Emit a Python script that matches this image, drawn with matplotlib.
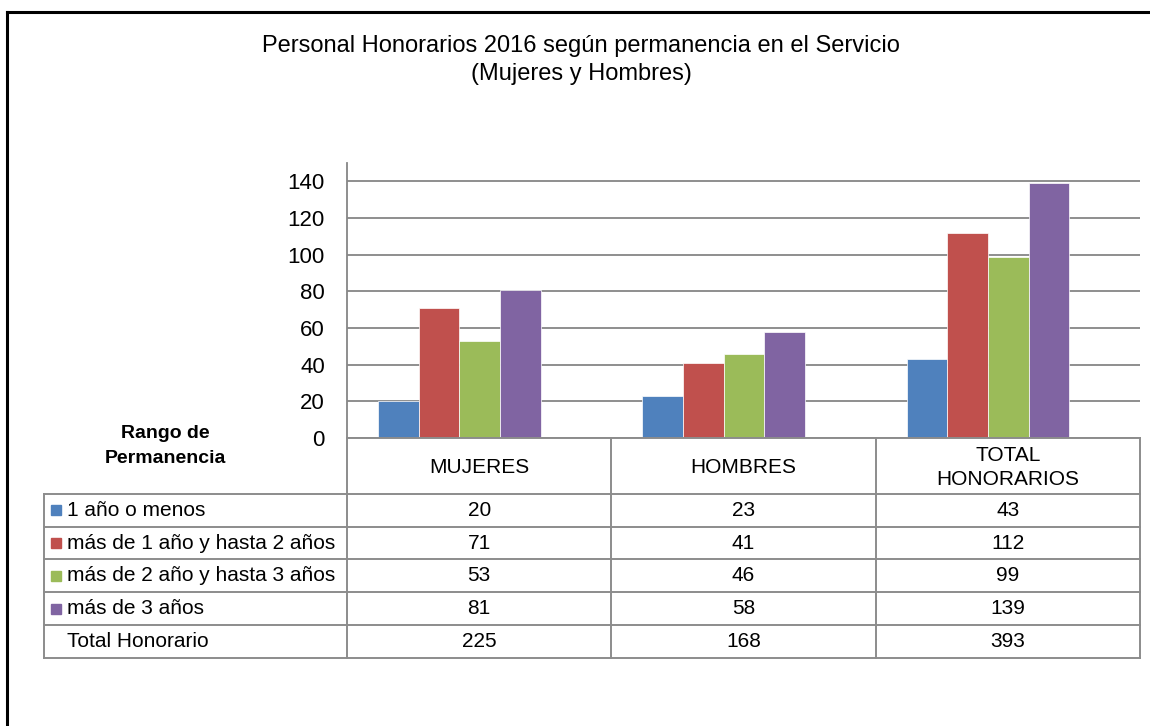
import matplotlib
matplotlib.use("Agg")
import matplotlib.pyplot as plt
from matplotlib.patches import Rectangle
import numpy as np

plt.rcParams['font.family'] = ['Liberation Sans', 'DejaVu Sans']

categories = ["MUJERES", "HOMBRES", "TOTAL\nHONORARIOS"]
series = ["1 año o menos", "más de 1 año y hasta 2 años",
          "más de 2 año y hasta 3 años", "más de 3 años"]
values = [
    [20, 23, 43],
    [71, 41, 112],
    [53, 46, 99],
    [81, 58, 139],
]
totals = [225, 168, 393]
total_label = "Total Honorario"
colors = ["#4F81BD", "#C0504D", "#9BBB59", "#8064A2"]
yticks = [0, 20, 40, 60, 80, 100, 120, 140]

W, H = 1150, 726
fig = plt.figure(figsize=(W / 100, H / 100), dpi=100)

def fx(px):
    return px / W

def fy(py):
    return 1 - py / H

# outer frame (left and top only)
fig.add_artist(plt.Line2D([fx(7), fx(7)], [fy(12), 0], color="black", lw=2.2))
fig.add_artist(plt.Line2D([fx(7), 1], [fy(12), fy(12)], color="black", lw=2.2))

fig.text(fx(581), fy(46), "Personal Honorarios 2016 según permanencia en el Servicio",
         ha="center", va="center", fontsize=17)
fig.text(fx(581), fy(74), "(Mujeres y Hombres)", ha="center", va="center", fontsize=17)

# main bar axes
ax_l, ax_r, ax_b, ax_t = 347, 1140, 438, 163
ax = fig.add_axes([fx(ax_l), fy(ax_b), fx(ax_r - ax_l), fy(ax_t) - fy(ax_b)])
x = np.arange(len(categories))
bw = 0.154
offset = -0.075
for i, (s, vals) in enumerate(zip(series, values)):
    ax.bar(x + offset + (i - 1.5) * bw, vals, width=bw, color=colors[i],
           edgecolor="white", linewidth=0.5, zorder=3)
ax.set_xlim(-0.5, 2.5)
ax.set_ylim(0, 150)
ax.set_yticks(yticks)
ax.set_yticklabels([str(t) for t in yticks], fontsize=16)
ax.tick_params(axis="y", length=0, pad=16)
ax.set_xticks([])
ax.yaxis.grid(True, color="#868686", lw=1.3, zorder=0)
for sp in ["top", "right", "bottom"]:
    ax.spines[sp].set_visible(False)
ax.spines["left"].set_color("#868686")
ax.spines["left"].set_linewidth(1.3)

# table axes, sharing column units with the bar axes
unit = (ax_r - ax_l) / 3
tab_l, tab_b = 44, 658
x_left = -0.5 - (ax_l - tab_l) / unit
tax = fig.add_axes([fx(tab_l), fy(tab_b), fx(ax_r - tab_l), fy(ax_b) - fy(tab_b)])
hdr = 1.7
nrows = len(series) + 1
tax.set_xlim(x_left, 2.5)
tax.set_ylim(nrows, -hdr)
tax.axis("off")

lc, lw = "#8C8C8C", 1.4
for xv in [-0.5, 0.5, 1.5, 2.5]:
    tax.plot([xv, xv], [-hdr, nrows], color=lc, lw=lw, clip_on=False)
tax.plot([x_left, x_left], [0, nrows], color=lc, lw=lw, clip_on=False)
tax.plot([-0.5, 2.5], [-hdr, -hdr], color=lc, lw=lw, clip_on=False)
for yv in range(nrows + 1):
    tax.plot([x_left, 2.5], [yv, yv], color=lc, lw=lw, clip_on=False)

tfs = 15
rp = 32.8  # pixels per table row
tax.text(x_left + (165 - tab_l) / unit, -hdr + 8 / rp, "Rango de\nPermanencia", ha="center",
         va="center", fontsize=14, fontweight="bold", linespacing=1.65)
for j, c in enumerate(categories):
    tax.text(j, -hdr / 2 + 0.05, c, ha="center", va="center", fontsize=tfs,
             linespacing=1.3)

sq = 10 / unit
text_x = x_left + 23 / unit
for i, s in enumerate(series):
    tax.add_patch(Rectangle((x_left + 7 / unit, i + 0.5 - 5 / rp), sq, 10 / rp,
                            color=colors[i], clip_on=False))
    tax.text(text_x, i + 0.5, s, ha="left", va="center", fontsize=tfs)
    for j in range(len(categories)):
        tax.text(j, i + 0.5, str(values[i][j]), ha="center", va="center", fontsize=tfs)
tax.text(text_x, nrows - 0.5, total_label, ha="left", va="center", fontsize=tfs)
for j, t in enumerate(totals):
    tax.text(j, nrows - 0.5, str(t), ha="center", va="center", fontsize=tfs)

fig.savefig("out.png", dpi=100)
